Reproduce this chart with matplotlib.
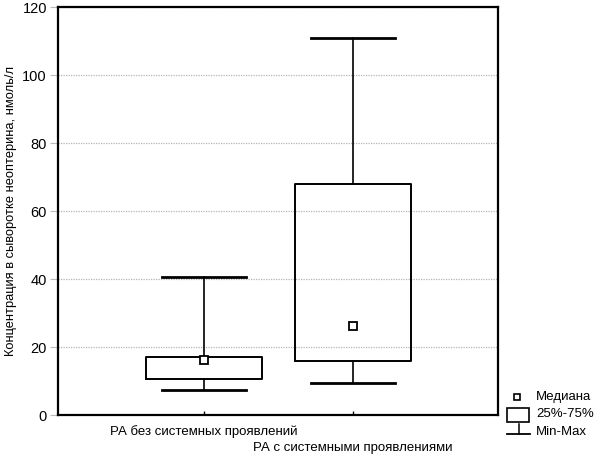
import matplotlib
matplotlib.use("Agg")
import matplotlib.pyplot as plt
from matplotlib.patches import Rectangle

# ==== Data ==== #
groups = ["РА без системных проявлений", "РА с системными проявлениями"]
val_min = [7.4, 9.4]
val_q1 = [10.6, 15.9]
val_med = [16.2, 26.2]
val_q3 = [17.1, 67.9]
val_max = [40.6, 110.9]
y_ticks = [0, 20, 40, 60, 80, 100, 120]
legend_labels = ["Медиана", "25%-75%", "Min-Max"]

plt.rcParams["font.family"] = ["Liberation Sans", "DejaVu Sans"]

fig = plt.figure(figsize=(5.95, 4.55), dpi=100)
ax = fig.add_axes([0.0975, 0.0879, 0.7395, 0.8967])

positions = [1, 2]
stats = []
for i in range(len(groups)):
    stats.append(dict(whislo=val_min[i], q1=val_q1[i], med=val_med[i],
                      q3=val_q3[i], whishi=val_max[i], label=""))

ax.bxp(stats, positions=positions, widths=0.78, showfliers=False,
       boxprops=dict(color="black", linewidth=1.4),
       whiskerprops=dict(color="black", linewidth=1.2),
       capprops=dict(color="black", linewidth=2.0),
       medianprops=dict(linewidth=0), capwidths=0.56)
ax.plot(positions, val_med, ls="none", marker="s", ms=5.5, mfc="white",
        mec="black", mew=1.3, zorder=4)

# ==== Axes ==== #
ax.set_xlim(0.02, 2.973)
ax.set_ylim(0, 120)
ax.set_yticks(y_ticks)
ax.set_yticklabels([str(v) for v in y_ticks], fontsize=10.5)
ax.set_xticks(positions)
ax.set_xticklabels([])
ax.tick_params(axis="x", direction="in", length=3, width=1)
ax.tick_params(axis="y", direction="out", length=6, width=0.8,
               color="#bbbbbb", pad=2)
ax.grid(axis="y", linestyle=(0, (1, 1)), color="#b5b5b5", linewidth=0.9)
ax.set_axisbelow(True)
for sp in ax.spines.values():
    sp.set_linewidth(1.6)

# staggered category labels
ax.text(1, -2.9, groups[0], ha="center", va="top", fontsize=9.5)
ax.text(2, -7.9, groups[1], ha="center", va="top", fontsize=9.5)

ax.set_ylabel("Концентрация в сыворотке неоптерина, нмоль/л", fontsize=9.3,
              labelpad=4)

# ==== Legend (drawn by hand, STATISTICA style), in pixel coords ==== #
lax = fig.add_axes([0, 0, 1, 1], zorder=-1)
lax.set_xlim(0, 595)
lax.set_ylim(455, 0)
lax.axis("off")
lax.plot([517], [397], ls="none", marker="s", ms=5, mfc="white", mec="black",
         mew=1.2)
lax.add_patch(Rectangle((507, 408), 22, 14, fill=False, ec="black", lw=1.2))
lax.plot([507, 530], [434, 434], color="black", lw=1.3)
lax.plot([518.5, 518.5], [424, 434], color="black", lw=1.1)
for yy, lab in zip([397, 414, 432], legend_labels):
    lax.text(536, yy, lab, ha="left", va="center", fontsize=9.5)

fig.savefig("out.png", dpi=100)
